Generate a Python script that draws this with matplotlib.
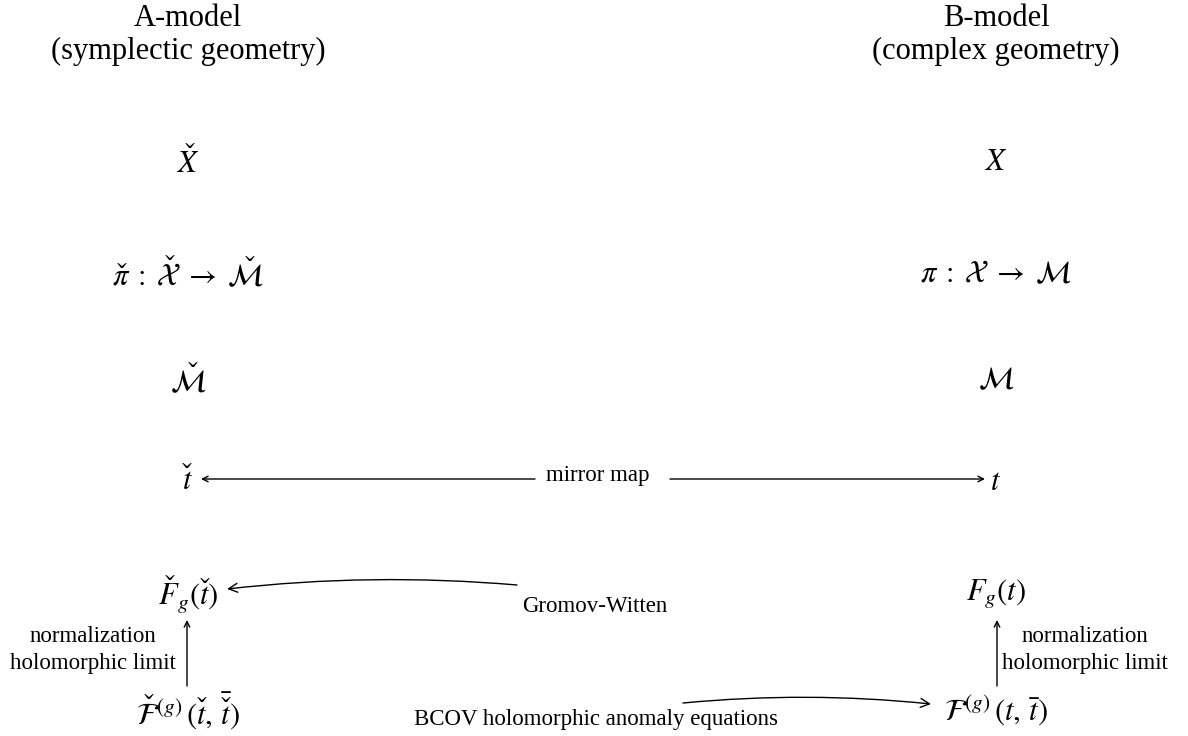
import matplotlib
matplotlib.use("Agg")
import matplotlib.pyplot as plt
from matplotlib.patches import FancyArrowPatch
from matplotlib import _mathtext

# mathtext has no \check accent, only a \check symbol; register it as a real accent
_mathtext.Parser._accent_map['check'] = '\u030c'

plt.rcParams['font.family'] = ['Liberation Serif', 'DejaVu Serif']
plt.rcParams['mathtext.fontset'] = 'stix'

# column headers
headers_a = ["A-model", "(symplectic geometry)"]
headers_b = ["B-model", "(complex geometry)"]

# diagram nodes, one list per column (top to bottom)
a_nodes = [r"$\check{X}$",
           r"$\check{\pi} \;:\; \check{\mathcal{X}} \;\to\; \check{\mathcal{M}}$",
           r"$\check{\mathcal{M}}$",
           r"$\check{t}$",
           r"$\check{F}_g(\check{t})$",
           r"$\check{\mathcal{F}}^{(g)}\,(\check{t},\,\bar{\check{t}})$"]
b_nodes = [r"$X$",
           r"$\pi \;:\; \mathcal{X} \;\to\; \mathcal{M}$",
           r"$\mathcal{M}$",
           r"$t$",
           r"$F_g(t)$",
           r"$\mathcal{F}^{(g)}\,(t,\,\bar{t})$"]

# edge labels
mirror_label = "mirror map"
gw_label = "Gromov-Witten"
bcov_label = "BCOV holomorphic anomaly equations"
limit_label = ["normalization", "holomorphic limit"]

fig = plt.figure(figsize=(11.88, 7.36), dpi=100)
ax = fig.add_axes([0, 0, 1, 1])
ax.set_xlim(0, 1188)
ax.set_ylim(736, 0)
ax.axis('off')

xa, xb = 188, 996
row_y = [163, 275, 381, 482, 594, 711]
lab_fs = 16.5

for i in range(2):
    ax.text(xa, 19 + 32 * i, headers_a[i], ha='center', va='center', fontsize=22)
    ax.text(xb, 19 + 32 * i, headers_b[i], ha='center', va='center', fontsize=22)

for i, (la, lb) in enumerate(zip(a_nodes, b_nodes)):
    ax.text(xa, row_y[i], la, ha='center', va='center', fontsize=22)
    ax.text(xb, row_y[i], lb, ha='center', va='center', fontsize=22)

# mirror map: two arrows with the label in the gap
ax.annotate("", xy=(201, 479), xytext=(535, 479),
            arrowprops=dict(arrowstyle='->', lw=1, color='black', shrinkA=0, shrinkB=0))
ax.annotate("", xy=(985, 479), xytext=(670, 479),
            arrowprops=dict(arrowstyle='->', lw=1, color='black', shrinkA=0, shrinkB=0))
ax.text(598, 476, mirror_label, ha='center', va='center', fontsize=lab_fs)

# Gromov-Witten curved arrow
gw = FancyArrowPatch((517, 585), (227, 589), connectionstyle='arc3,rad=0.05',
                     arrowstyle='->', mutation_scale=16, lw=1, color='black',
                     shrinkA=0, shrinkB=0)
ax.add_patch(gw)
ax.text(595, 606, gw_label, ha='center', va='center', fontsize=lab_fs)

# BCOV curved arrow
bc = FancyArrowPatch((683, 703), (931, 704), connectionstyle='arc3,rad=-0.05',
                     arrowstyle='->', mutation_scale=16, lw=1, color='black',
                     shrinkA=0, shrinkB=0)
ax.add_patch(bc)
ax.text(596, 720, bcov_label, ha='center', va='center', fontsize=lab_fs)

# vertical limit arrows with two-line labels
for x in (187, 997):
    ax.annotate("", xy=(x, 620), xytext=(x, 686),
                arrowprops=dict(arrowstyle='->', lw=1, color='black', shrinkA=0, shrinkB=0))
for i, line in enumerate(limit_label):
    ax.text(93, 637 + 27 * i, line, ha='center', va='center', fontsize=lab_fs)
    ax.text(1085, 637 + 27 * i, line, ha='center', va='center', fontsize=lab_fs)

fig.savefig("out.png", dpi=100)
